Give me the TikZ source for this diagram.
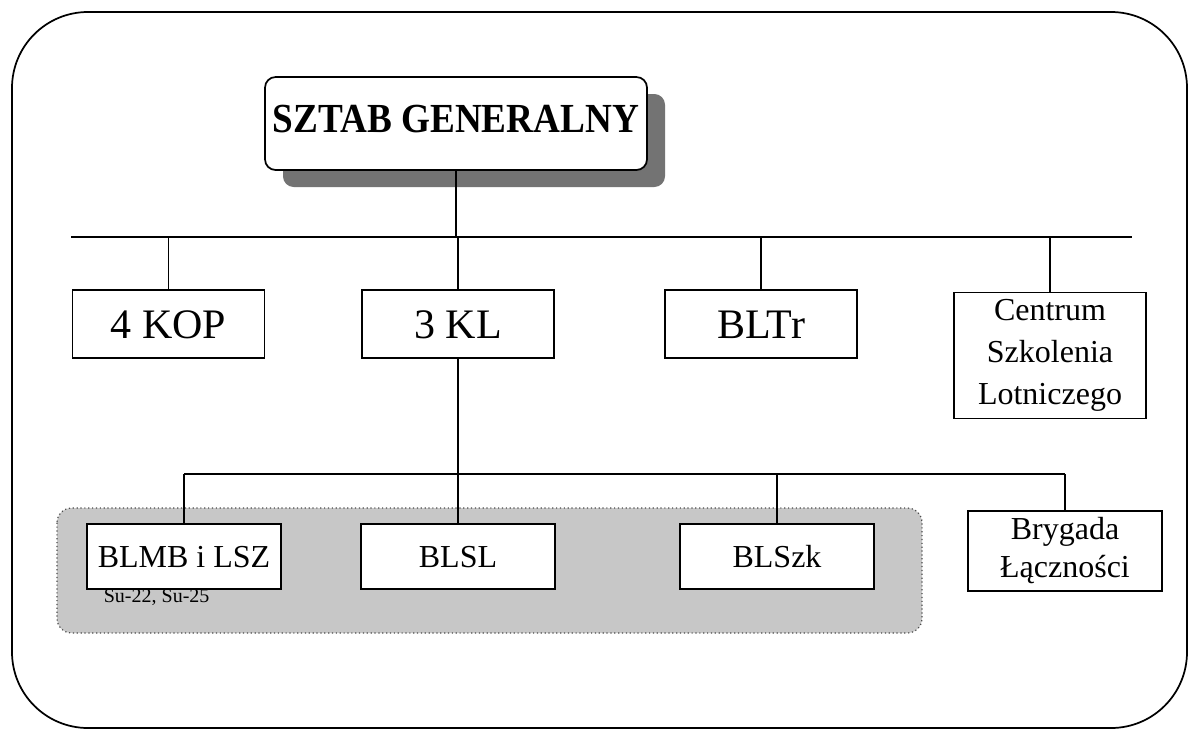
\documentclass[tikz,border=0pt]{standalone}
\usepackage{fontspec}
\setmainfont{Liberation Serif}
\usetikzlibrary{shadows}
\begin{document}
\begin{tikzpicture}[x=0.75pt,y=-0.75pt,line width=1.3pt,
		unit/.style={draw,fill=white,inner sep=0pt,align=center},
		line1/.style={text height=#1,text depth=0pt},
		upper/.style={unit,minimum width=144pt,minimum height=51pt,font=\fontsize{31.5}{36}\selectfont},
		lower/.style={unit,minimum width=145pt,minimum height=48.75pt,font=\fontsize{24}{28}\selectfont}]
		\useasboundingbox (0,0) rectangle (1188,729);
		\draw[rounded corners=57pt] (12,12) rectangle (1187,728);
		\draw[black!70,dotted,line width=0.9pt,fill=black!22,rounded corners=11pt] (57,508) rectangle (922,633);
		\node[unit,rounded corners=8pt,minimum width=286.5pt,minimum height=69.75pt,
			font=\bfseries\fontsize{31}{36}\selectfont,text height=21pt,text depth=7pt,
			drop shadow={shadow xshift=13.5pt,shadow yshift=-12.75pt,fill=black!55,opacity=1}] (sg) at (456,123.5) {\scalebox{0.9}[1]{SZTAB GENERALNY}};
		\node[upper,line1=21pt] (kop) at (168.5,324) {4 KOP};
		\node[upper,line1=21pt] (kl) at (458,324) {3 KL};
		\node[upper,line1=21pt] (bltr) at (761,324) {BLTr};
		\node[upper,minimum height=94.5pt,font=\fontsize{24}{31.5}\selectfont] (csl) at (1050,355.5) {Centrum\\Szkolenia\\Lotniczego};
		\node[lower,line1=16pt] (blmb) at (184,556.5) {BLMB i LSZ};
		\node[lower,line1=16pt] (blsl) at (458,556.5) {BLSL};
		\node[lower,line1=16pt] (blszk) at (777,556.5) {BLSzk};
		\node[lower,minimum height=60pt,font=\fontsize{24}{28.5}\selectfont] (bl) at (1065,551) {Brygada\\Łączności};
		\node[anchor=base west,inner sep=0pt,font=\fontsize{15}{18}\selectfont] (su) at (103,602) {Su-22, Su-25};
		\coordinate (busL) at (71,237);
		\coordinate (busR) at (1132,237);
		\coordinate (bus2) at (0,474);
		\draw (busL) -- (busR);
		\draw (sg.south) -- (sg.south|-busL);
		\foreach \n in {kop,kl,bltr,csl}
			\draw (\n.north) -- (\n.north|-busL);
		\draw (kl.south) -- (blsl.north);
		\draw (blmb.north|-bus2) -- (bl.north|-bus2);
		\foreach \n in {blmb,blszk,bl}
			\draw (\n.north) -- (\n.north|-bus2);
\end{tikzpicture}
\end{document}
